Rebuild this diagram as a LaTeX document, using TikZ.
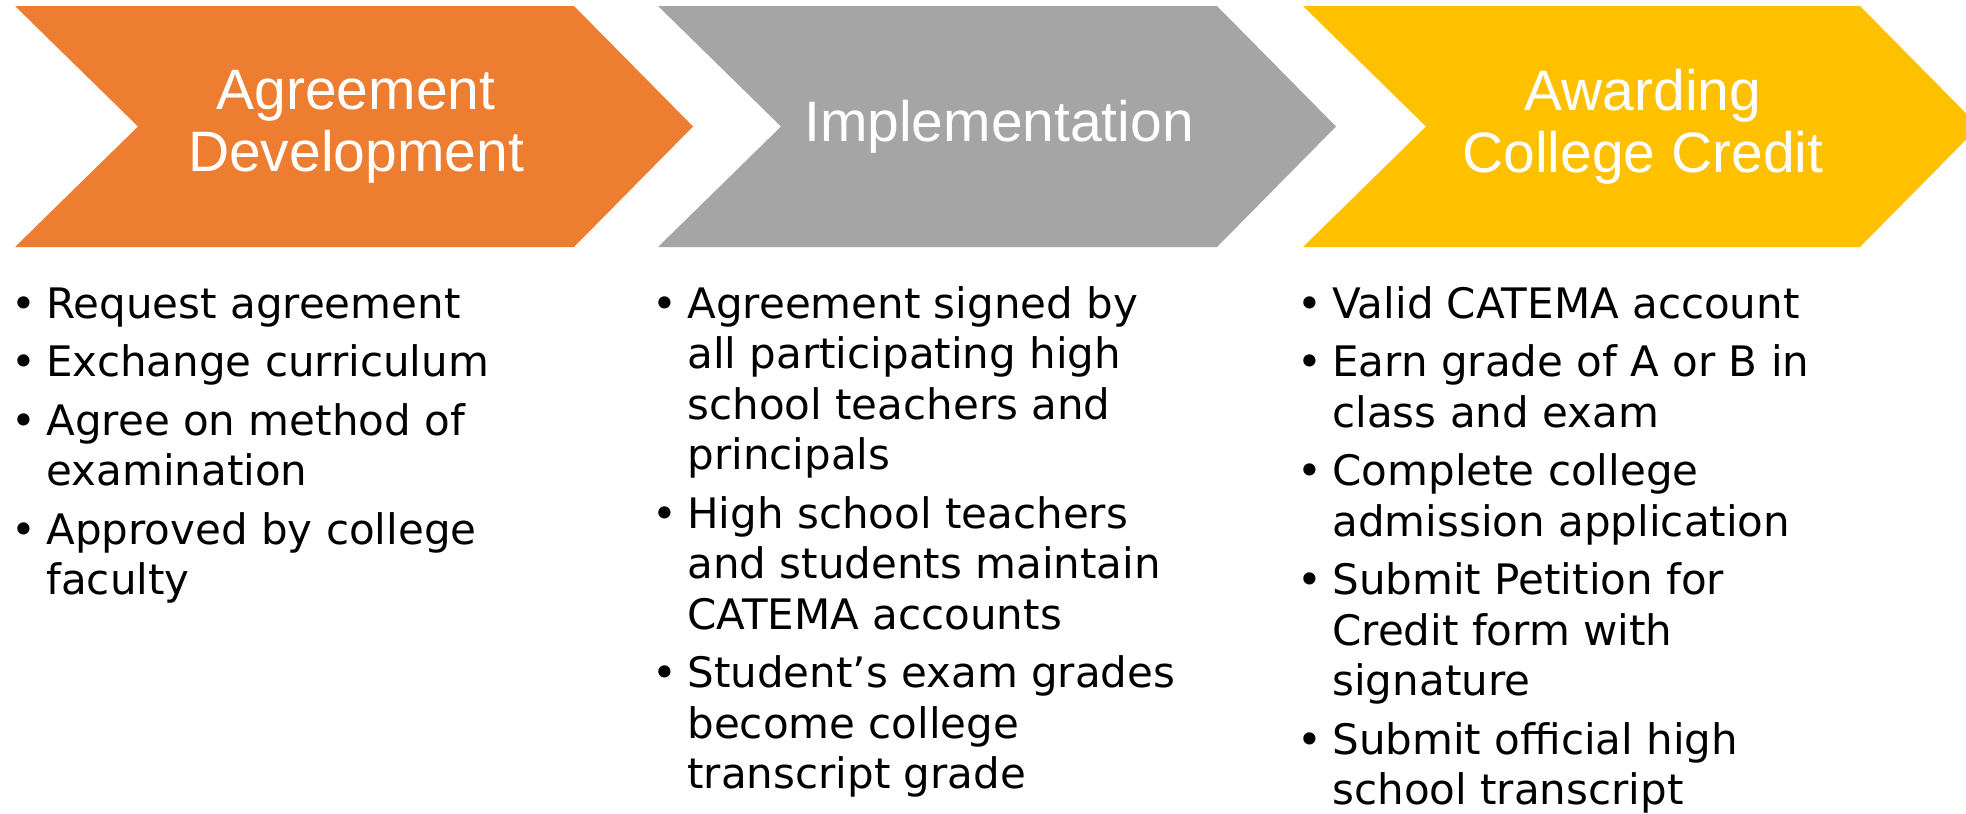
\documentclass[tikz,border=0pt]{standalone}
\usepackage{fontspec}
\setmainfont{DejaVu Sans}
\newfontfamily\titlefont{Liberation Sans}
\definecolor{cOrange}{HTML}{ED7D31}
\definecolor{cGray}{HTML}{A5A5A5}
\definecolor{cYellow}{HTML}{FFC000}
\newcommand\bitem[1]{\hbox{\llap{\textbullet\hspace{5pt}}#1}}
\newcommand\contline[1]{\hbox{#1}}
\newcommand\itemgap{\vskip4pt}
\begin{document}
\begin{tikzpicture}[x=0.5pt,y=-0.5pt,
  title/.style={font=\titlefont\fontsize{28.5}{31}\selectfont, text=white, align=center, inner sep=0pt},
  col/.style={anchor=base west, inner sep=0pt, font=\fontsize{21}{25.25}\selectfont, text=black}]
\useasboundingbox (0,0) rectangle (1966,814);
\clip (0,0) rectangle (1966,814);
\fill[cOrange] (15,6) -- (574,6) -- (693,126.5) -- (574,247) -- (15,247) -- (138,126.5) -- cycle;
\fill[cGray] (658,6) -- (1217,6) -- (1336,126.5) -- (1217,247) -- (658,247) -- (781,126.5) -- cycle;
\fill[cYellow] (1303,6) -- (1860,6) -- (1979,126.5) -- (1860,247) -- (1303,247) -- (1426,126.5) -- cycle;
\node[title] (t1) at (356,126.5) {Agreement\\Development};
\node[title] (t2) at (999,126.5) {Implementation};
\node[title] (t3) at (1643,126.5) {Awarding\\College Credit};
\node[col] (c1) at (46,318) {\vtop{%
  \bitem{Request agreement}\itemgap
  \bitem{Exchange curriculum}\itemgap
  \bitem{Agree on method of}\contline{examination}\itemgap
  \bitem{Approved by college}\contline{faculty}}};
\node[col] (c2) at (687,318) {\vtop{%
  \bitem{Agreement signed by}\contline{all participating high}\contline{school teachers and}\contline{principals}\itemgap
  \bitem{High school teachers}\contline{and students maintain}\contline{CATEMA accounts}\itemgap
  \bitem{Student’s exam grades}\contline{become college}\contline{transcript grade}}};
\node[col] (c3) at (1332,318) {\vtop{%
  \bitem{Valid CATEMA account}\itemgap
  \bitem{Earn grade of A or B in}\contline{class and exam}\itemgap
  \bitem{Complete college}\contline{admission application}\itemgap
  \bitem{Submit Petition for}\contline{Credit form with}\contline{signature}\itemgap
  \bitem{Submit official high}\contline{school transcript}}};
\end{tikzpicture}
\end{document}
